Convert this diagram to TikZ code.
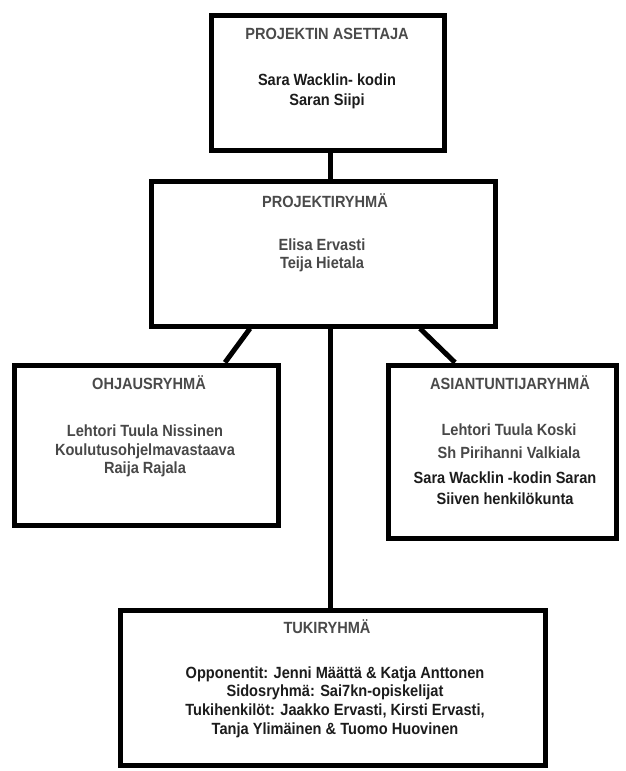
\documentclass[tikz,border=0pt]{standalone}
\usepackage{fontspec}
\setmainfont{Liberation Sans}[FakeStretch=0.9]
\definecolor{headc}{HTML}{4A4A4A}
\definecolor{greyc}{HTML}{484848}
\definecolor{darkc}{HTML}{1C1C1C}
\begin{document}
\begin{tikzpicture}[x=1pt,y=-1pt,
  box/.style={draw=black,line width=5pt,line join=miter,rectangle,inner sep=0pt},
  conn/.style={draw=black,line width=5pt},
  head/.style={font=\bfseries\fontsize{16.2}{17}\selectfont,text=headc,inner sep=0pt},
  body/.style={font=\bfseries\fontsize{16.2}{#1}\selectfont,align=center,inner sep=0pt},
  body/.default=18.5]
\useasboundingbox (0,0) rectangle (626,771);
\fill[white] (0,0) rectangle (626,771);
% boxes
\node[box,minimum width=233pt,minimum height=135pt] (asettaja) at (327.5,82.5) {};
\node[box,minimum width=344pt,minimum height=145pt] (ryhma) at (323,253.5) {};
\node[box,minimum width=264pt,minimum height=160pt] (ohjaus) at (146,445) {};
\node[box,minimum width=228pt,minimum height=173pt] (asiantuntija) at (502,451.5) {};
\node[box,minimum width=425pt,minimum height=155pt] (tuki) at (332.5,687.5) {};
% helper coordinates for connector positions
\coordinate (trunk) at (330,0);
\coordinate (dlt) at (250,0);
\coordinate (dlb) at (225,0);
\coordinate (drt) at (420,0);
\coordinate (drb) at (455,0);
% connectors
\draw[conn] (asettaja.south -| trunk) -- (ryhma.north -| trunk);
\draw[conn] (ryhma.south -| trunk) -- (tuki.north -| trunk);
\draw[conn] (ryhma.south -| dlt) -- (ohjaus.north -| dlb);
\draw[conn] (ryhma.south -| drt) -- (asiantuntija.north -| drb);
% texts
\node[head] (asettajaH) at (327,34) {PROJEKTIN ASETTAJA};
\node[body=20,text=darkc] (asettajaB) at (327,91) {Sara Wacklin- kodin\\Saran Siipi};
\node[head] (ryhmaH) at (325,201) {PROJEKTIRYHMÄ};
\node[body=18,text=greyc] (ryhmaB) at (322,255) {Elisa Ervasti\\Teija Hietala};
\node[head] (ohjausH) at (149,383) {OHJAUSRYHMÄ};
\node[body=18.5,text=greyc] (ohjausB) at (145,451) {Lehtori Tuula Nissinen\\Koulutusohjelmavastaava\\Raija Rajala};
\node[head] (asiantuntijaH) at (510,383) {ASIANTUNTIJARYHMÄ};
\node[body=23,text=greyc] (asiantuntijaB) at (509,441.5) {Lehtori Tuula Koski\\Sh Pirihanni Valkiala};
\node[body=21,text=darkc] (asiantuntijaC) at (505,488.5) {Sara Wacklin -kodin Saran\\Siiven henkilökunta};
\node[head] (tukiH) at (327,627) {TUKIRYHMÄ};
\node[body=18.7,text=darkc] (tukiB) at (335,702) {Opponentit: Jenni Määttä \& Katja Anttonen\\Sidosryhmä: Sai7kn-opiskelijat\\Tukihenkilöt: Jaakko Ervasti, Kirsti Ervasti,\\Tanja Ylimäinen \& Tuomo Huovinen};
\end{tikzpicture}
\end{document}
